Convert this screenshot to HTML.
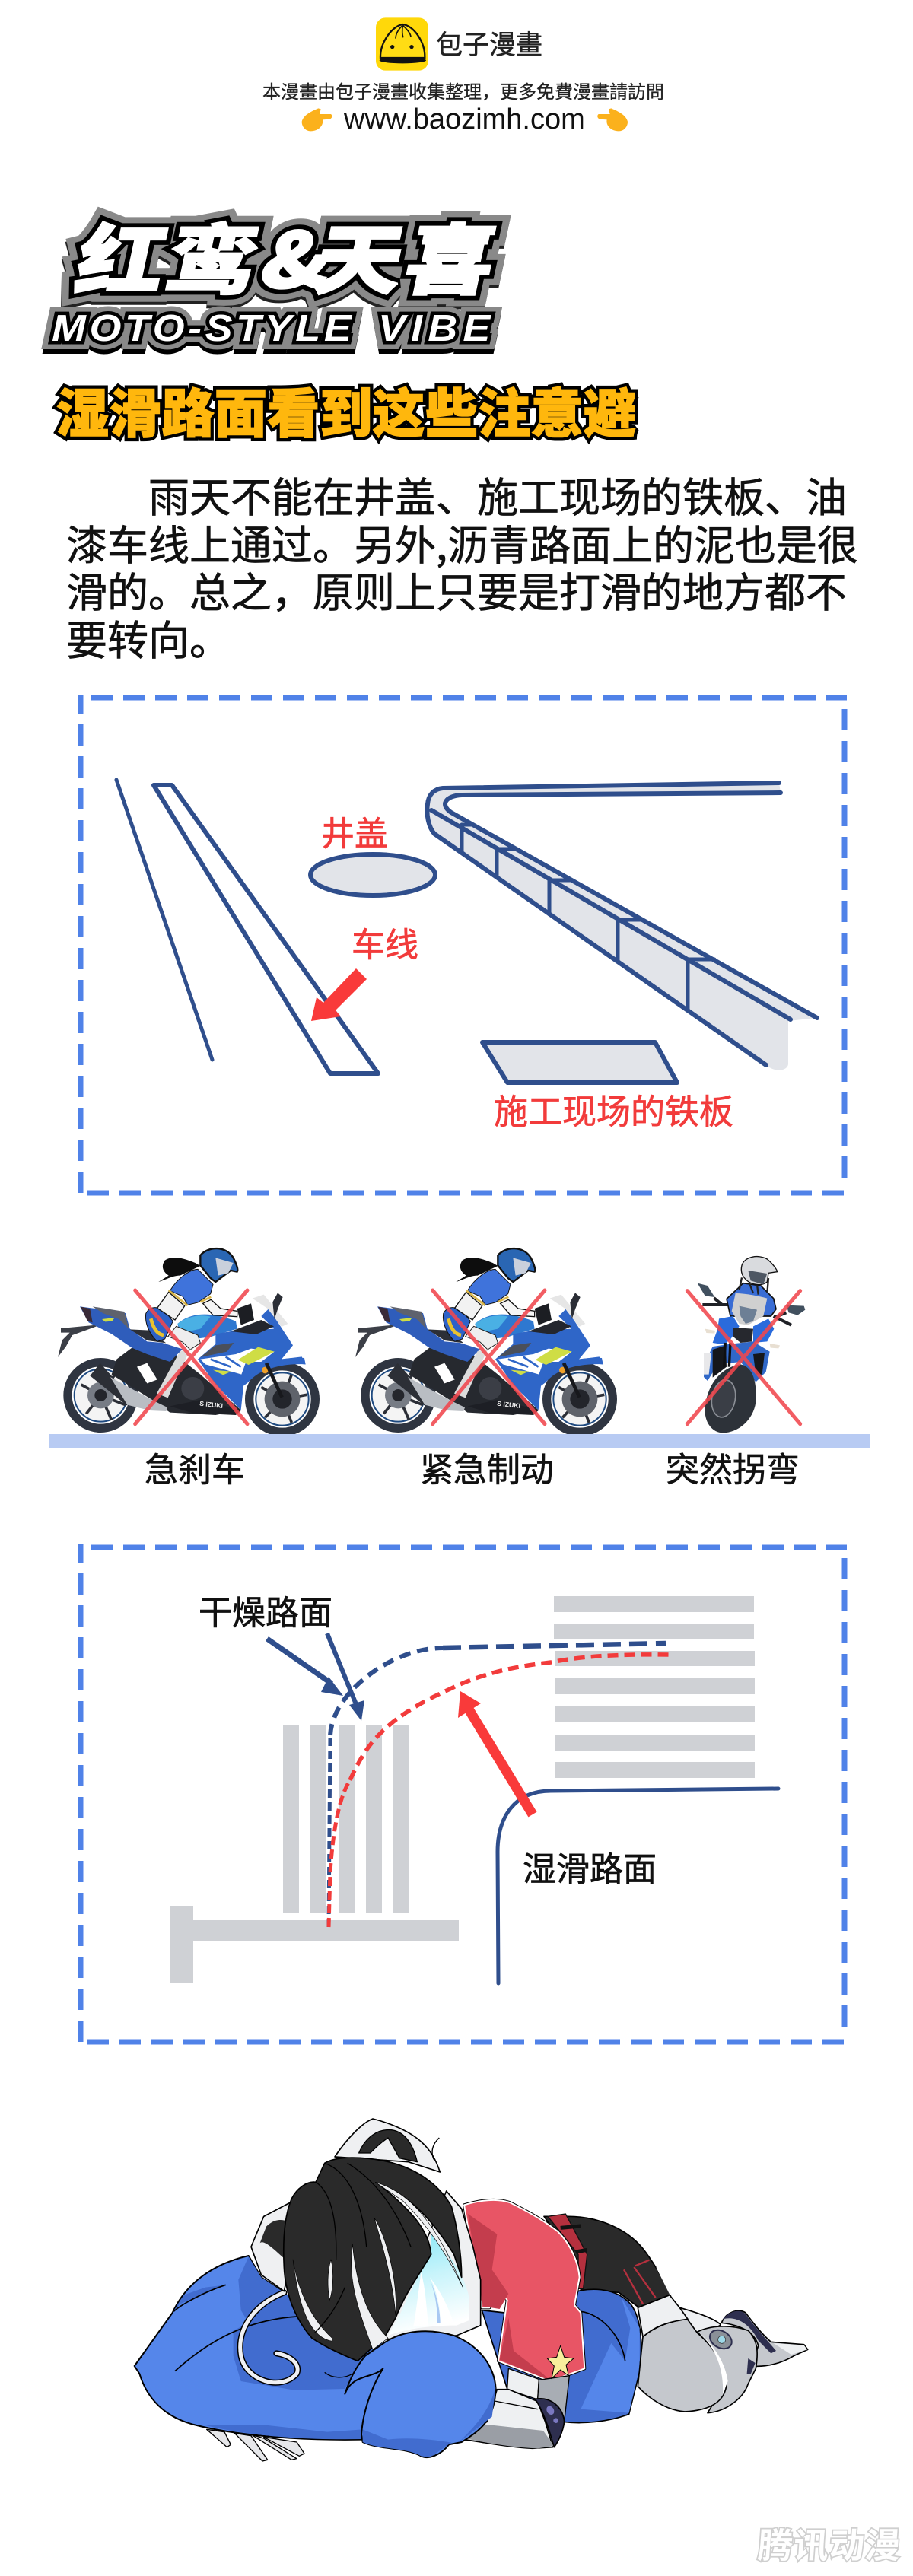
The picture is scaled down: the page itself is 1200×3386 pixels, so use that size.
<!DOCTYPE html>
<html lang="zh-CN">
<head>
<meta charset="utf-8">
<title>红鸾&amp;天喜</title>
<style>
html,body{margin:0;padding:0;background:#fff;}
svg{display:block;position:absolute;left:0;top:0;}
.cjk{font-family:"Noto Sans CJK SC","Liberation Sans",sans-serif;}
.tc{font-family:"Noto Sans CJK TC","Liberation Sans",sans-serif;}
</style>
</head>
<body>
<svg xmlns="http://www.w3.org/2000/svg" width="1200" height="3386" viewBox="0 0 1200 3386">
<defs>
<linearGradient id="cy" x1="0" y1="0" x2="0.2" y2="1">
<stop offset="0" stop-color="#7fe6f5"/><stop offset=".5" stop-color="#c8f4fb"/><stop offset="1" stop-color="#ffffff"/>
</linearGradient>
<filter id="b"><feGaussianBlur stdDeviation="0.6"/></filter>
</defs>
<rect width="1200" height="3386" fill="#fff"/>

<!-- header -->
<g transform="translate(380,10) scale(.33333)">
<rect x="342" y="40" width="207" height="208" rx="38" fill="#FFD80A"/>
<path d="M360,198 C358,135 410,70 448,66 C490,70 537,135 535,198 Z" fill="#FFDC14" stroke="#111" stroke-width="7"/>
<ellipse cx="448" cy="208" rx="92" ry="12" fill="#111"/>
<circle cx="407" cy="155" r="8" fill="#111"/><circle cx="483" cy="155" r="8" fill="#111"/>
<path d="M448,70 C430,85 420,105 420,122 M448,70 C445,90 445,105 450,118 M448,70 C465,85 478,100 480,115" fill="none" stroke="#111" stroke-width="5"/>
</g>
<text class="tc" x="573" y="71" font-size="35" fill="#222" stroke="#222" stroke-width=".5">包子漫畫</text>
<text class="tc" x="345" y="129" font-size="24" fill="#222" stroke="#222" stroke-width=".35">本漫畫由包子漫畫收集整理，更多免費漫畫請訪問</text>
<text x="452" y="169" font-size="38" fill="#111" font-family="'Liberation Sans',sans-serif">www.baozimh.com</text>
<g transform="translate(380,10) scale(.33333)">
<path id="hand" d="M50,450 C55,425 85,410 115,397 L125,400 L120,420 L165,420 C172,425 170,437 160,440 L132,442 C137,465 115,487 85,487 C65,487 50,470 50,450 Z" fill="#FBB11C"/>
<use href="#hand" transform="translate(1385,0) scale(-1,1)"/>
</g>

<!-- titles -->
<g class="cjk" font-weight="900" font-size="100" stroke-linejoin="miter" stroke-miterlimit="2">
<g transform="translate(95,378) skewX(-12) scale(1.15,1)">
<text x="0 104 212 272 376" stroke="#222" stroke-width="30" transform="translate(0,4)">红鸾&amp;天喜</text>
<text x="0 104 212 272 376" stroke="#898989" stroke-width="30" fill="#898989">红鸾&amp;天喜</text>
<text x="0 104 212 272 376" stroke="#000" stroke-width="14" fill="#000">红鸾&amp;天喜</text>
<text x="0 104 212 272 376" fill="#fff" stroke="#fff" stroke-width="2.5">红鸾&amp;天喜</text>
</g>
</g>
<g transform="translate(68,448) scale(1.1,1)" font-family="'Liberation Sans',sans-serif" font-weight="700" font-style="italic" font-size="49" stroke-linejoin="miter" stroke-miterlimit="2">
<g transform="translate(0,7)" stroke="#000" stroke-width="20" fill="#000">
<text x="0" y="0" textLength="358">MOTO-STYLE</text><text x="390" y="0" textLength="134">VIBE</text>
</g>
<g stroke="#898989" stroke-width="22" fill="#898989">
<text x="0" y="0" textLength="358">MOTO-STYLE</text><text x="390" y="0" textLength="134">VIBE</text>
</g>
<g stroke="#000" stroke-width="9" fill="#000">
<text x="0" y="0" textLength="358">MOTO-STYLE</text><text x="390" y="0" textLength="134">VIBE</text>
</g>
<g fill="#fff">
<text x="0" y="0" textLength="358">MOTO-STYLE</text><text x="390" y="0" textLength="134">VIBE</text>
</g>
</g>
<g class="cjk" font-weight="900" font-size="69" stroke-linejoin="miter" stroke-miterlimit="2">
<text x="74" y="568" textLength="762" stroke="#000" stroke-width="10" fill="#000">湿滑路面看到这些注意避</text>
<text x="74" y="568" textLength="762" fill="#FFB70D" stroke="#FFB70D" stroke-width="1.5">湿滑路面看到这些注意避</text>
</g>

<!-- paragraph -->
<g class="cjk" font-size="54" fill="#111" stroke="#111" stroke-width=".7">
<text x="195" y="673">雨天不能在井盖、施工现场的铁板、油</text>
<text x="87" y="736">漆车线上通过。另外,沥青路面上的泥也是很</text>
<text x="87" y="798">滑的。总之，原则上只要是打滑的地方都不</text>
<text x="87" y="861">要转向。</text>
</g>

<!-- box 1 -->
<g stroke="#5082E8" stroke-width="7" fill="none">
<line x1="120" y1="917" x2="1113" y2="917" stroke-dasharray="28 14"/>
<line x1="1110" y1="932" x2="1110" y2="1552" stroke-dasharray="28 14"/>
<line x1="106" y1="913" x2="106" y2="1571" stroke-dasharray="28 14" stroke-dashoffset="3"/>
<line x1="115" y1="1568" x2="1113" y2="1568" stroke-dasharray="28 14"/>
</g>
<g stroke="#2F4E8C" fill="none" stroke-linecap="round" stroke-linejoin="round">
<line x1="153" y1="1025" x2="279" y2="1393" stroke-width="5"/>
<polygon points="202,1032 226,1032 497,1411 434,1411" stroke-width="6" fill="#fff"/>
<ellipse cx="490" cy="1150" rx="82" ry="27" fill="#E2E4E9" stroke-width="6"/>
<polygon points="634,1370 861,1370 890,1423 667,1423" fill="#E2E4E9" stroke-width="6"/>
<path d="M582,1036 L1024,1029 L1026,1042 L607,1045 C585,1045 578,1058 593,1068 L1074,1338 L1036,1342 L1036,1398 C1036,1408 1018,1410 1007,1400 L571,1096 C562,1085 560,1065 562,1057 C563,1045 570,1037 582,1036 Z" fill="#E2E4E9" stroke="none"/>
<path d="M1024,1029 L582,1036 C570,1037 563,1045 562,1057 C560,1070 563,1087 571,1096 L1007,1400" stroke-width="6"/>
<path d="M1026,1042 L607,1045 C585,1046 578,1058 593,1068 L1074,1338" stroke-width="6"/>
<path d="M567,1065 L1039,1340" stroke-width="6"/>
<path d="M607,1084 V1120 M653,1116 V1152 M722,1157 V1202 M812,1209 V1263 M904,1261 V1327" stroke-width="5"/>
<path d="M607,1084 H620 M653,1116 H676 M722,1157 H750 M812,1209 H842 M904,1261 H939" stroke-width="5"/>
</g>
<g class="cjk" fill="#F23B3B" stroke="#F23B3B" stroke-width=".7" font-size="44">
<text x="422" y="1111">井盖</text>
<text x="462" y="1257">车线</text>
<text x="649" y="1477" font-size="45">施工现场的铁板</text>
</g>
<polygon points="468,1273 482,1287 441,1328 448,1336 409,1342 416,1311 425,1318" fill="#F93A3A"/>

<!-- bikes -->
<g transform="translate(50,1640) scale(.33333)">
<g id="bike">
<path d="M90,318 L250,303 L190,325 L135,345 L110,390 L78,432 L95,365 L125,335 L90,335 Z" fill="#3c3f47"/>
<g fill="#fff" stroke="#2F3541">
<circle cx="247" cy="582" r="130" stroke-width="34"/>
<circle cx="963" cy="597" r="130" stroke-width="34"/>
</g>
<circle cx="247" cy="582" r="104" fill="#f4f4f4" stroke="#1f4a80" stroke-width="6"/>
<circle cx="963" cy="597" r="104" fill="#f4f4f4" stroke="#1f4a80" stroke-width="6"/>
<g stroke="#2b2e36" stroke-width="11">
<path d="M247,582 L170,540 M247,582 L190,655 M247,582 L290,680 M247,582 L345,620 M247,582 L310,490"/>
<path d="M963,597 L880,550 M963,597 L895,670 M963,597 L1000,690 M963,597 L1060,580 M963,597 L1000,500"/>
</g>
<circle cx="247" cy="582" r="52" fill="#777c85"/><circle cx="247" cy="582" r="24" fill="#24262c"/>
<circle cx="963" cy="597" r="70" fill="#5f636b"/><circle cx="963" cy="597" r="38" fill="#23252b"/>
<path d="M310,440 L370,395 L540,420 L640,500 L800,640 L700,660 L520,650 L450,600 L290,500 Z" fill="#26292f"/>
<path d="M390,470 L430,455 L470,520 L430,535 Z" fill="#fff"/>
<circle cx="610" cy="555" r="45" fill="#3b3e46"/>
<path d="M205,505 L245,455 L372,598 L350,622 Z" fill="#2c2f36"/>
<path d="M285,510 L445,598 L510,630 L505,645 L440,642 L352,620 Z" fill="#B9BDC3"/>
<path d="M520,625 L640,600 L802,640 L780,660 L610,652 Z" fill="#1d1f25"/>
<path d="M165,232 C230,240 300,250 345,258 L362,320 L430,370 L490,375 L570,400 L520,450 L430,420 L370,395 L290,340 L200,295 Z" fill="#2F5DBB"/>
<path d="M168,233 L205,240 L215,295 L195,290 Z" fill="#3a2b38"/>
<path d="M215,232 L340,252 L358,320 L320,282 L255,258 Z" fill="#5e626d"/>
<path d="M252,282 L302,276 L292,290 L265,292 Z" fill="#CFDD45"/>
<path d="M362,322 L440,326 L505,376 L430,366 Z" fill="#2c2f37"/>
<path d="M550,300 C600,255 680,250 780,290 L785,320 L700,345 L680,352 L600,362 L560,340 Z" fill="#2E78D0"/>
<path d="M550,300 C590,270 640,262 680,272 L640,320 L570,335 Z" fill="#4AB0E4"/>
<path d="M700,340 L760,330 L930,320 L880,270 L910,240 L1005,385 L960,440 L1040,430 L1055,460 L920,450 L810,545 L800,640 L760,600 L700,540 L630,440 L700,380 Z" fill="#2F66C8"/>
<path d="M640,432 L700,385 L772,375 L745,410 Z" fill="#4a4f5a"/>
<path d="M760,330 L880,285 L930,310 L860,342 Z" fill="#23262e"/>
<path d="M640,440 L780,420 L840,398 L932,410 L880,450 L820,450 L802,500 L740,482 L660,460 Z" fill="#fff"/>
<path d="M680,440 L760,470 M740,430 L800,470" stroke="#2F66C8" stroke-width="8" fill="none"/>
<path d="M788,442 L868,392 L932,410 L830,462 Z" fill="#CFDD45"/>
<path d="M690,482 L762,488 L730,502 Z" fill="#CFDD45"/>
<path d="M810,545 C830,480 900,430 1050,435 L1055,460 C960,455 870,480 830,530 Z" fill="#2F66C8"/>
<circle cx="895" cy="483" r="13" fill="#EFA12A"/>
<line x1="900" y1="455" x2="962" y2="590" stroke="#17181c" stroke-width="14"/>
<path d="M845,200 L890,185 L985,300 L960,312 L905,240 Z" fill="#E6E6E6"/>
<path d="M925,215 L945,178 L965,195 L946,240 L932,282 Z" fill="#2b2e36"/>
<path d="M785,240 L840,220 L852,285 L800,305 Z" fill="#1c1e23"/>
<path d="M620,60 C570,40 530,30 500,50 C480,80 500,100 515,110 L475,135 C510,125 530,110 560,110 L640,72 Z" fill="#0d0d0d"/>
<path d="M425,260 C440,230 470,230 500,250 L532,290 L500,360 L470,370 C440,340 420,300 425,260 Z" fill="#2E62C8" stroke="#111" stroke-width="3"/>
<path d="M445,280 C455,320 470,340 495,345" fill="none" stroke="#E9C22F" stroke-width="14"/>
<path d="M515,175 L578,230 L540,285 L470,238 Z" fill="#F2F2F2" stroke="#111" stroke-width="4"/>
<path d="M650,220 L682,205 L720,240 L785,250 L785,272 L690,266 Z" fill="#F5F5F5" stroke="#111" stroke-width="4"/>
<path d="M520,170 C550,120 600,85 630,85 L690,145 L680,182 L630,216 L590,226 L570,192 Z" fill="#3F73DB" stroke="#111" stroke-width="3"/>
<path d="M515,168 L590,228 M640,214 L682,194" fill="none" stroke="#D9B64A" stroke-width="8"/>
<path d="M512,350 L545,310 L630,345 L640,376 L600,402 L570,372 Z" fill="#EEE" stroke="#222" stroke-width="3"/>
<path d="M560,408 L602,400 L560,482 L512,592 L468,575 L520,480 Z" fill="#DCDCDC"/>
<path d="M640,30 C670,-5 740,-10 770,40 C785,70 790,90 785,95 L760,90 L700,135 L680,120 L640,70 Z" fill="#2a66b3" stroke="#111" stroke-width="7"/>
<path d="M700,40 L770,60 L750,100 L710,110 Z" fill="#c9d0dc"/>
</g>
<path d="M383,168 L825,695 M825,168 L383,695" stroke="#F0484E" stroke-opacity=".88" stroke-width="15" stroke-linecap="round" filter="url(#b)"/>
<text x="636" y="623" font-size="26" font-weight="700" fill="#eee" font-family="'Liberation Sans',sans-serif" transform="rotate(6 636 623)">S IZUKI</text>
</g>
<g transform="translate(441,1640) scale(.33333)">
<use href="#bike"/>
<path d="M383,168 L825,695 M825,168 L383,695" stroke="#F0484E" stroke-opacity=".88" stroke-width="15" stroke-linecap="round" filter="url(#b)"/>
<text x="636" y="623" font-size="26" font-weight="700" fill="#eee" font-family="'Liberation Sans',sans-serif" transform="rotate(6 636 623)">S IZUKI</text>
</g>
<!-- front bike -->
<g transform="translate(880,1650) scale(.33333)">
<path d="M110,110 L150,120 L178,165 L140,160 Z" fill="#41505f"/>
<path d="M460,197 L530,200 L535,215 L505,236 L470,226 Z" fill="#41505f"/>
<path d="M175,168 L208,196 M130,195 L240,195 M410,240 L480,275 M460,226 L420,242" stroke="#1f2126" stroke-width="12" fill="none"/>
<path d="M225,172 L270,130 L290,110 L360,120 L410,170 L420,212 L400,240 L240,240 Z" fill="#3a6dd4" stroke="#111" stroke-width="5"/>
<path d="M285,88 L275,135 M390,90 L385,150 M315,110 L330,150 M345,115 L350,155" stroke="#222" stroke-width="7" fill="none"/>
<path d="M285,40 C295,5 350,-5 385,15 C410,35 425,60 425,65 L390,70 L385,105 C360,125 320,115 300,95 C285,80 280,60 285,40 Z" fill="#D9DBDE" stroke="#111" stroke-width="4"/>
<path d="M310,60 L385,72 L370,115 L320,100 Z" fill="#4e5763"/>
<path d="M170,360 C150,400 135,440 135,480 L150,495 L190,430 L280,420 L340,500 L380,460 L395,380 L330,340 L240,350 Z" fill="#3068C8"/>
<path d="M170,372 L222,355 L225,440 L170,482 Z" fill="#15171b"/>
<path d="M330,390 L375,385 L365,470 L340,470 Z" fill="#15171b"/>
<path d="M135,385 L165,385 L155,470 L135,470 Z" fill="#e8e8ea"/>
<path d="M195,250 L250,240 L275,280 L240,332 L215,352 L170,345 L190,290 Z" fill="#2a6bdc"/>
<path d="M330,280 L390,250 L412,290 L385,340 L330,345 Z" fill="#2a6bdc"/>
<path d="M260,150 C300,150 350,160 385,170 L370,240 L310,275 L275,270 L245,220 Z" fill="#D0D0D0"/>
<path d="M275,200 L345,215 L330,260 L300,270 L280,240 Z" fill="#6D7F95"/>
<path d="M250,285 L330,290 L325,340 L280,345 L250,320 Z" fill="#26282e"/>
<path d="M140,290 L180,297 L178,308 L145,306 Z" fill="#e8dfd2"/>
<path d="M395,348 L435,355 L430,367 L398,365 Z" fill="#e8dfd2"/>
<path d="M140,600 C150,500 210,440 280,430 C330,440 345,500 340,580 C330,650 270,700 210,700 C170,700 135,660 140,600 Z" fill="#2d3239"/>
<ellipse cx="213" cy="565" rx="46" ry="74" transform="rotate(10 213 565)" fill="#3a3e46" stroke="#8a8e95" stroke-width="5"/>
<path d="M220,345 L215,440 M240,345 L235,440" stroke="#0e0f12" stroke-width="10"/>
<path d="M70,140 L515,665 M515,140 L70,665" stroke="#F0484E" stroke-opacity=".88" stroke-width="15" stroke-linecap="round" filter="url(#b)"/>
</g>

<rect x="64" y="1885" width="1080" height="18" fill="#B8CBF3"/>
<g class="cjk" font-size="44" fill="#111" stroke="#111" stroke-width=".7">
<text x="190" y="1947">急刹车</text>
<text x="552" y="1947">紧急制动</text>
<text x="875" y="1947">突然拐弯</text>
</g>

<!-- box 2 -->
<g stroke="#5082E8" stroke-width="7" fill="none">
<line x1="120" y1="2034" x2="1113" y2="2034" stroke-dasharray="28 14"/>
<line x1="1110" y1="2048" x2="1110" y2="2667" stroke-dasharray="28 14"/>
<line x1="106" y1="2030" x2="106" y2="2688" stroke-dasharray="28 14" stroke-dashoffset="4"/>
<line x1="115" y1="2684" x2="1113" y2="2684" stroke-dasharray="28 14"/>
</g>
<g fill="#CFD1D5">
<rect x="728" y="2098" width="263" height="21"/><rect x="728" y="2134" width="263" height="21"/>
<rect x="729" y="2170" width="263" height="20"/><rect x="729" y="2206" width="263" height="21"/>
<rect x="729" y="2243" width="263" height="21"/><rect x="729" y="2280" width="263" height="21"/>
<rect x="729" y="2316" width="263" height="21"/>
<rect x="372" y="2268" width="21" height="247"/><rect x="408" y="2268" width="21" height="247"/>
<rect x="445" y="2268" width="21" height="247"/><rect x="481" y="2268" width="21" height="247"/>
<rect x="517" y="2268" width="21" height="247"/>
<rect x="254" y="2524" width="349" height="27"/><rect x="223" y="2505" width="31" height="102"/>
</g>
<path d="M655,2607 L654,2434 C654,2389 676,2354 724,2354 L1023,2351" fill="none" stroke="#2F4E8C" stroke-width="5" stroke-linecap="round"/>
<g fill="none">
<path d="M432,2533 L434,2281" stroke="#2F4E8C" stroke-width="5" stroke-dasharray="11 6"/>
<path d="M434,2281 C437,2223 517,2166 582,2166" stroke="#2F4E8C" stroke-width="6" stroke-dasharray="15 9"/>
<path d="M582,2166 L875,2160" stroke="#2F4E8C" stroke-width="6.5" stroke-dasharray="24 11"/>
<path d="M432,2533 L434,2461 C438,2400 447,2360 460,2340" stroke="#F23B3B" stroke-width="5" stroke-dasharray="12 6"/>
<path d="M460,2340 C480,2295 497,2280 517,2263 C550,2238 575,2228 600,2216 C640,2198 680,2190 724,2185 C760,2178 800,2174 881,2175" stroke="#F23B3B" stroke-width="5.5" stroke-dasharray="14 8"/>
</g>
<path d="M351,2154 L436,2213" fill="none" stroke="#2F4E8C" stroke-width="7"/>
<polygon points="432,2204 451,2229 422,2224" fill="#2F4E8C"/>
<line x1="430" y1="2147" x2="470" y2="2245" stroke="#2F4E8C" stroke-width="6"/>
<polygon points="459,2241 479,2235 475,2262" fill="#2F4E8C"/>
<line x1="700" y1="2385" x2="615" y2="2245" stroke="#F93A3A" stroke-width="13"/>
<polygon points="605,2223 602,2258 632,2239" fill="#F93A3A"/>
<g class="cjk" font-size="44" fill="#111" stroke="#111" stroke-width=".7">
<text x="261" y="2135">干燥路面</text>
<text x="687" y="2472">湿滑路面</text>
</g>

<!-- character: right half -->
<g transform="translate(600,2900) scale(.33333)" stroke-linejoin="round">
<path d="M345,40 L440,40 C560,40 680,90 745,180 C790,240 825,310 845,350 L720,400 L640,340 L490,330 L490,250 Z" fill="#2a2a2a" stroke="#000" stroke-width="5"/>
<path d="M360,40 L430,30 L515,190 L500,325 L482,325 L480,190 Z" fill="#B5303E" stroke="#111" stroke-width="4"/>
<path d="M410,85 L490,78 M470,180 L515,172" stroke="#111" stroke-width="15" fill="none"/>
<path d="M660,250 L735,385 M700,240 L785,360 M705,235 L760,212" stroke="#B5303E" stroke-width="7" fill="none"/>
<path d="M790,240 L845,350" stroke="#fff" stroke-width="6" fill="none"/>
<path d="M490,332 C560,320 640,330 690,390 C730,450 735,540 720,660 L680,820 C600,850 500,860 420,850 L200,720 L100,410 L190,420 Z" fill="#416CCF" stroke="#000" stroke-width="5"/>
<path d="M610,540 L490,800 L680,815 L722,640 L722,480 L650,360 L685,480 L665,610 Z" fill="#5586EA"/>
<path d="M490,415 C570,425 650,510 665,610" fill="none" stroke="#000" stroke-width="5"/>
<path d="M880,400 C950,420 1010,440 1040,465 C1050,470 1000,485 950,505 Z" fill="#EEF0F2" stroke="#000" stroke-width="5"/>
<path d="M1045,460 C1060,420 1110,400 1140,420 C1170,460 1200,500 1240,535 L1370,545 L1385,565 L1330,590 C1280,620 1220,635 1165,630 L1190,550 C1180,510 1140,470 1045,460 Z" fill="#C5C8CD" stroke="#000" stroke-width="5"/>
<path d="M1050,445 C1080,410 1120,405 1140,425 C1170,470 1210,510 1260,570 L1240,580 L1190,530 C1160,470 1110,430 1050,445 Z" fill="#2E2F4F"/>
<path d="M1250,540 L1370,548 L1383,565 L1320,585 Z" fill="#EEF0F2"/>
<path d="M950,495 C1000,470 1080,465 1150,490 C1190,530 1190,580 1180,640 L1150,700 C1130,760 1060,810 990,815 L1060,700 C1050,620 1000,550 950,495 Z" fill="#C5C8CD" stroke="#000" stroke-width="5"/>
<path d="M1150,600 L1178,618 L1160,662 L1145,660 Z" fill="#2E2F4F"/>
<path d="M735,515 C780,475 850,450 910,445 L950,500 C1020,560 1065,640 1065,700 C1060,770 1000,805 900,810 C830,805 760,760 715,710 Z" fill="#C5C8CD" stroke="#000" stroke-width="5"/>
<path d="M960,500 C1020,560 1055,640 1050,740 L1070,690 C1060,620 1020,555 960,500 Z" fill="#fff"/>
<path d="M715,400 L840,350 L880,400 L912,445 C830,455 780,475 735,515 Z" fill="#EEF0F2" stroke="#000" stroke-width="5"/>
<ellipse cx="1042" cy="525" rx="46" ry="33" transform="rotate(30 1042 525)" fill="#8A9098" stroke="#2E2F4F" stroke-width="6"/>
<circle cx="1046" cy="526" r="15" fill="#9fd8e8" stroke="#333" stroke-width="2"/>
<path d="M30,-5 C80,-20 150,-35 210,-15 C250,5 330,45 400,100 C450,150 480,220 485,280 L465,390 L490,420 L505,640 L370,690 L165,610 L200,370 L150,310 L135,295 L130,400 L100,400 Z" fill="#000" stroke="#000" stroke-width="12"/>
<path d="M30,-5 C80,-20 150,-35 210,-15 C250,5 330,45 400,100 C450,150 480,220 485,280 L465,390 L490,420 L505,640 L370,690 L165,610 L200,370 L150,310 L135,295 L130,400 L100,400 Z" fill="#E85565" stroke="#fff" stroke-width="6"/>
<path d="M45,30 L160,110 L140,250 L205,345 L170,405 L105,395 Z" fill="#C43D4D"/>
<path d="M170,605 L205,440 L225,570 L340,660 L370,688 Z" fill="#C43D4D"/>
<path d="M205,640 L325,682 L320,762 L200,722 Z" fill="#EEF0F2" stroke="#000" stroke-width="4"/>
<path d="M325,685 L445,668 L425,850 L340,800 L320,762 Z" fill="#A8ADB4" stroke="#000" stroke-width="4"/>
<path d="M160,722 L205,722 L320,770 L350,850 L380,950 L300,955 C200,950 100,930 0,915 L120,850 Z" fill="#EEF0F2" stroke="#000" stroke-width="5"/>
<path d="M12,910 L110,860 L342,885 L385,945 L320,955 C200,950 100,930 12,910 Z" fill="#9A9EA5"/>
<path d="M150,768 L320,800" stroke="#000" stroke-width="4" fill="none"/>
<path d="M310,760 C370,750 420,790 425,850 C420,890 400,930 385,950 C370,900 350,820 310,760 Z" fill="#2E2F4F" stroke="#000" stroke-width="5"/>
<ellipse cx="370" cy="805" rx="14" ry="18" transform="rotate(-30 370 805)" fill="#7A78C0"/>
<circle cx="392" cy="845" r="10" fill="#7A78C0"/>
<polygon points="410,550 425,595 462,600 432,625 442,668 410,645 375,680 385,630 358,600 395,595" fill="#F8EE9C" stroke="#000" stroke-width="3"/>
</g>

<!-- character: left half -->
<g transform="translate(170,2780) scale(.33333)" stroke-linejoin="round">
<g fill="#E6E7EA" stroke="#000" stroke-width="4">
<path d="M305,1240 L375,1250 L400,1300 L385,1310 Z"/>
<path d="M530,1270 L660,1290 L690,1335 L670,1345 Z"/>
<path d="M480,1260 L530,1275 L660,1355 L640,1360 Z"/>
<path d="M415,1255 L480,1265 L545,1360 L525,1365 Z"/>
</g>
<path d="M470,555 C320,590 220,670 170,780 L20,990 L40,1020 C70,1120 140,1190 250,1220 C400,1260 650,1285 920,1280 L1000,1000 L880,950 L610,700 L520,640 Z" fill="#5586EA" stroke="#000" stroke-width="6"/>
<path d="M470,558 L430,650 L440,770 L470,820 L410,850 L410,950 L440,1050 L650,1085 L850,1080 L890,1010 L1000,900 L800,850 L610,700 L520,640 Z" fill="#416CCF"/>
<path d="M300,1224 L530,1222 L780,1250 L920,1240 L920,1278 C650,1283 450,1260 300,1224 Z" fill="#416CCF"/>
<path d="M170,780 L215,710 L300,680 L380,670 L200,745 Z" fill="#416CCF"/>
<path d="M180,1010 C280,920 430,810 660,795 M380,670 C290,700 200,750 175,775" stroke="#000" stroke-width="5" fill="none"/>
<path d="M610,700 C510,740 420,830 440,950 C460,1050 600,1090 660,1020 C675,985 640,950 580,940" fill="none" stroke="#000" stroke-width="24" stroke-linecap="round"/>
<path d="M610,700 C510,740 420,830 440,950 C460,1050 600,1090 660,1020 C675,985 640,950 580,940" fill="none" stroke="#F0F1F3" stroke-width="15" stroke-linecap="round"/>
<path d="M810,165 C860,90 920,30 960,15 C1020,30 1100,60 1150,105 C1190,140 1210,180 1225,225 L1100,185 Z" fill="#EFF0F2" stroke="#000" stroke-width="5"/>
<path d="M905,150 C930,90 980,50 1040,60 C1090,70 1120,120 1135,185 L1065,170 L1020,90 C990,110 970,130 950,150 Z" fill="#2a2a2a" stroke="#000" stroke-width="4"/>
<path d="M1222,90 C1190,120 1190,150 1200,175" fill="none" stroke="#000" stroke-width="4"/>
<path d="M635,345 L530,400 L480,520 L520,630 L610,695 L630,600 Z" fill="#EFF0F2" stroke="#000" stroke-width="5"/>
<path d="M540,440 C570,410 600,410 625,420 L610,565 C570,530 530,490 515,505 Z" fill="#2a2a2a"/>
<path d="M1250,300 L1310,370 L1355,520 L1385,650 L1385,830 L1290,870 L1000,885 L1190,450 Z" fill="#EFF0F2" stroke="#000" stroke-width="5"/>
<path d="M1190,460 C1250,540 1320,620 1340,720 L1340,810 L1290,830 C1200,830 1100,840 1020,870 L1070,780 C1110,690 1150,610 1190,550 Z" fill="url(#cy)"/>
<path d="M1150,620 C1140,700 1130,780 1120,835 L1180,830 C1170,760 1170,690 1150,620 Z" fill="#fff"/>
<path d="M1185,640 C1215,700 1230,770 1225,825 L1280,825 C1260,760 1230,700 1185,640 Z" fill="#fff"/>
<path d="M1180,640 C1205,690 1215,760 1215,820 L1226,820 C1225,760 1210,700 1180,640 Z" fill="#a9c8f2"/>
<path d="M735,265 C700,260 660,290 640,330 C610,400 605,500 610,600 C615,700 650,800 720,880 C780,920 850,950 900,970 L1010,870 L1050,800 C1090,700 1130,650 1190,550 C1180,440 1090,360 980,270 C1100,310 1200,420 1280,550 L1310,640 C1310,540 1290,430 1270,360 C1230,290 1150,210 1000,180 C920,165 820,160 770,190 Z" fill="#2a2a2a" stroke="#000" stroke-width="5"/>
<g fill="#EFF0F2" stroke="#000" stroke-width="2">
<path d="M970,265 C1090,300 1200,400 1315,680 C1240,520 1150,410 1080,340 Z"/>
<path d="M965,405 C1010,470 1060,650 1050,790 C1040,660 1000,520 965,405 Z"/>
<path d="M645,570 C660,660 700,790 800,880 L800,892 C720,880 670,780 645,570 Z"/>
<path d="M880,510 C860,650 900,760 960,925 L1020,880 C960,820 900,720 880,510 Z"/>
<path d="M795,570 C810,630 800,700 790,730 C780,680 780,620 795,570 Z"/>
</g>
<path d="M735,265 C790,300 820,400 815,570 M770,190 C860,220 920,340 935,520 M860,190 C960,250 1050,360 1110,520" fill="none" stroke="#000" stroke-width="4"/>
<path d="M850,680 C820,750 790,800 730,860" fill="none" stroke="#000" stroke-width="4"/>
<path d="M1010,895 C1080,850 1180,840 1280,870 C1380,910 1440,990 1445,1080 C1440,1200 1390,1240 1310,1290 L1260,1300 C1230,1340 1180,1360 1150,1345 C1090,1310 980,1320 920,1290 L915,1260 C920,1180 950,1080 1000,1000 C960,1040 880,1020 850,1100 C870,1040 890,1000 930,950 Z" fill="#5586EA" stroke="#000" stroke-width="6"/>
<path d="M920,1240 L1020,1280 C1100,1270 1200,1280 1270,1292 L1185,1350 L1150,1345 C1090,1310 980,1320 920,1290 Z" fill="#416CCF"/>
<path d="M1445,1070 L1430,1190 L1300,1290 C1360,1230 1420,1170 1445,1070 Z" fill="#416CCF"/>
<path d="M770,1015 C800,1040 850,1040 880,1020" fill="none" stroke="#000" stroke-width="4"/>
</g>

<!-- watermark -->
<g class="cjk" font-size="46" font-weight="700">
<text transform="translate(995,3362) skewX(-4)" textLength="187" stroke="#CFCFCF" stroke-width="3.5" fill="#fff" paint-order="stroke">腾讯动漫</text>
</g>
</svg>
</body>
</html>
